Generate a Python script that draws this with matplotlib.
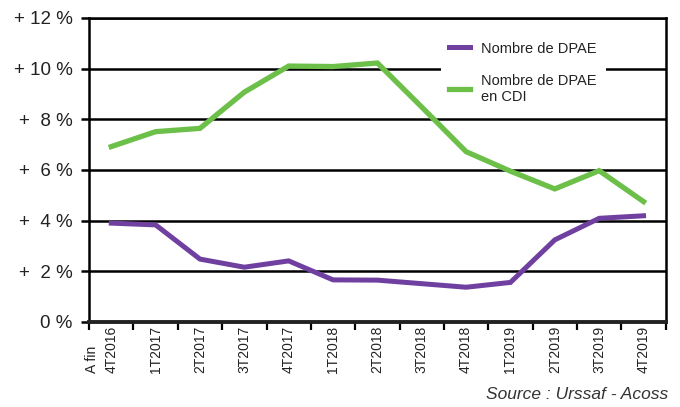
import matplotlib
matplotlib.use("Agg")
import matplotlib.pyplot as plt
from matplotlib.ticker import FixedLocator, NullFormatter

# ---- data ----
categories = ["4T2016", "1T2017", "2T2017", "3T2017", "4T2017", "1T2018", "2T2018",
              "3T2018", "4T2018", "1T2019", "2T2019", "3T2019", "4T2019"]
dpae = [3.90, 3.83, 2.48, 2.16, 2.41, 1.66, 1.65, 1.51, 1.37, 1.56, 3.24, 4.09, 4.19]
dpae_cdi = [6.92, 7.51, 7.64, 9.07, 10.10, 10.08, 10.22, 8.48, 6.72, 5.95, 5.25, 5.97, 4.75]
y_ticks = [0, 2, 4, 6, 8, 10, 12]
y_tick_labels = ["0 %", "+  2 %", "+  4 %", "+  6 %", "+  8 %", "+ 10 %", "+ 12 %"]
series_labels = ["Nombre de DPAE", "Nombre de DPAE\nen CDI"]
source_text = "Source : Urssaf - Acoss"
first_label = "A fin"

plt.rcParams["font.family"] = ["Liberation Sans", "DejaVu Sans"]

fig = plt.figure(figsize=(6.8, 4.07), dpi=100)
ax = fig.add_axes([0.131, 0.209, 0.848, 0.747])

x = list(range(len(categories)))
purple = "#7040a0"
green = "#6cc04a"
ax.plot(x, dpae, color=purple, lw=3.6, solid_joinstyle="miter", label=series_labels[0], zorder=3)
ax.plot(x, dpae_cdi, color=green, lw=3.8, solid_joinstyle="miter", label=series_labels[1], zorder=3)

ax.set_xlim(-0.5, len(categories) - 0.5)
ax.set_ylim(0, 12)

ax.yaxis.set_major_locator(FixedLocator(y_ticks))
ax.set_yticklabels(y_tick_labels)
ax.yaxis.grid(True, color="black", lw=1.8)
ax.set_axisbelow(True)

ax.xaxis.set_major_locator(FixedLocator(x))
ax.set_xticklabels(categories, rotation=90)
ax.xaxis.set_minor_locator(FixedLocator([i - 0.5 for i in range(len(categories) + 1)]))
ax.xaxis.set_minor_formatter(NullFormatter())

ax.tick_params(axis="x", which="major", length=0, pad=3, labelsize=10, labelcolor="#222222")
ax.tick_params(axis="x", which="minor", length=6, width=1.6, direction="out", color="black")
ax.tick_params(axis="y", which="major", length=6, width=1.8, pad=6, labelsize=13.5,
               labelcolor="#222222", direction="out")

for side in ["left", "right", "top"]:
    ax.spines[side].set_linewidth(1.8)
    ax.spines[side].set_color("black")
ax.spines["bottom"].set_linewidth(2.8)
ax.spines["bottom"].set_color("#222222")

leg = ax.legend(loc="upper left", bbox_to_anchor=(0.597, 0.975), frameon=True,
                fontsize=10.5, handlelength=1.4, handletextpad=0.8, labelspacing=1.25,
                borderpad=0.6, fancybox=False)
leg.get_frame().set_facecolor("white")
leg.get_frame().set_edgecolor("none")
leg.get_frame().set_alpha(1)
for t in leg.get_texts():
    t.set_color("#222222")

fig.text(0.982, 0.012, source_text, ha="right", va="bottom", style="italic",
         fontsize=12.5, color="#333333")

fig.canvas.draw()
bb = ax.get_xticklabels()[0].get_window_extent()
W, H = fig.bbox.width, fig.bbox.height
fig.text(92 / 680, bb.y0 / H, first_label, rotation=90, ha="center", va="bottom",
         fontsize=10, color="#222222")

fig.savefig("out.png", dpi=100)
